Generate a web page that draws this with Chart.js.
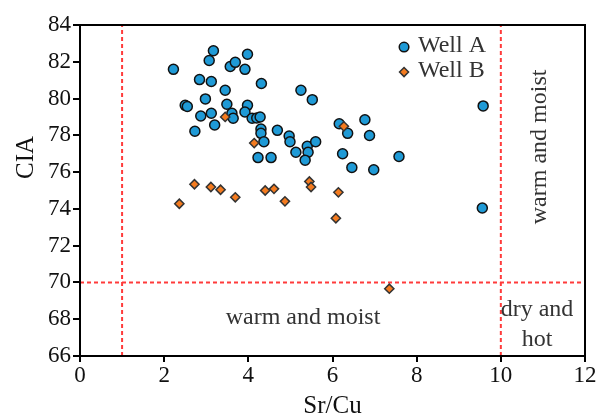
<!DOCTYPE html>
<html>
<head>
<meta charset="utf-8">
<script src="https://cdn.jsdelivr.net/npm/chart.js@4.4.1/dist/chart.umd.min.js"></script>
<style>
  html, body { margin:0; padding:0; background:#fff; }
  canvas { display:block; }
</style>
</head>
<body>
<canvas id="chart" width="601" height="419"></canvas>
<script>
// values
const WELL_A_X = [2.22,3.17,3.07,3.57,3.69,3.98,3.92,2.84,3.12,3.45,4.31,5.25,5.52,2.98,2.50,2.55,3.49,3.98,2.87,3.12,3.61,3.64,3.92,4.09,4.20,4.28,2.73,3.20,4.30,4.30,4.37,4.69,4.97,4.99,4.23,4.54,5.13,5.40,5.42,5.60,5.35,6.16,6.24,6.36,6.77,6.88,7.58,6.46,6.98,9.58,9.56];
const WELL_A_Y = [81.59,82.60,82.07,81.74,81.97,82.41,81.59,81.03,80.93,80.45,80.82,80.45,79.94,79.98,79.63,79.57,79.69,79.63,79.05,79.20,79.20,78.93,79.27,78.93,78.94,79.00,78.22,78.56,78.34,78.11,77.65,78.27,77.96,77.65,76.79,76.79,77.08,77.40,77.08,77.65,76.65,78.63,77.00,78.11,78.85,77.99,76.85,76.25,76.13,79.60,74.05];
const WELL_B_X = [2.36,2.72,3.11,3.34,3.69,4.40,4.61,4.87,3.45,4.14,5.45,5.49,6.14,6.08,6.27,7.35];
const WELL_B_Y = [74.28,75.34,75.19,75.04,74.63,75.00,75.09,74.41,79.00,77.58,75.49,75.19,74.90,73.49,78.49,69.66];
const X_TICKS = [0,2,4,6,8,10,12];
const Y_TICKS = [66,68,70,72,74,76,78,80,82,84];
const LIMIT_X = [1, 10];
const LIMIT_Y = 70;
const SERIES = ['Well A', 'Well B'];

const FONT = "'Liberation Serif','Times New Roman',serif";
const BLUE = '#1f9ad6', ORANGE = '#f47b1f', RED = '#ff3b3b';

const pts = (xs, ys) => xs.map((x, i) => ({ x, y: ys[i] }));
const xMin = X_TICKS[0], xMax = X_TICKS[X_TICKS.length - 1];
const yMin = Y_TICKS[0], yMax = Y_TICKS[Y_TICKS.length - 1];

function limitLine(data) {
  return { type:'line', data, showLine:true, pointRadius:0, borderColor:RED, borderWidth:2,
           borderDash:[4,3], fill:false, order:5 };
}

// frame, legend, axis title and zone labels
const overlay = {
  id:'overlay',
  afterDraw(chart) {
    const { ctx, chartArea:a, scales:{ x, y } } = chart;
    ctx.save();
    ctx.strokeStyle = '#000'; ctx.lineWidth = 2;
    ctx.strokeRect(a.left, a.top, a.right - a.left, a.bottom - a.top);

    ctx.fillStyle = '#111';
    ctx.font = '25px ' + FONT;
    ctx.textAlign = 'center'; ctx.textBaseline = 'middle';
    ctx.translate(26, y.getPixelForValue(76.8));
    ctx.rotate(-Math.PI / 2);
    ctx.fillText('CIA', 0, 0);
    ctx.setTransform(1,0,0,1,0,0);

    ctx.fillStyle = '#333';
    ctx.font = '24px ' + FONT;
    ctx.fillText('warm and moist', x.getPixelForValue(5.3), y.getPixelForValue(68.07));
    ctx.fillText('dry and', x.getPixelForValue(10.86), y.getPixelForValue(68.5));
    ctx.fillText('hot', x.getPixelForValue(10.86), y.getPixelForValue(66.87));
    ctx.save();
    ctx.translate(x.getPixelForValue(10.93), y.getPixelForValue(77.37));
    ctx.rotate(-Math.PI / 2);
    ctx.fillText('warm and moist', 0, 0);
    ctx.restore();

    // legend
    const lx = x.getPixelForValue(7.7);
    const ly = [y.getPixelForValue(82.8), y.getPixelForValue(81.44)];
    ctx.lineWidth = 1.5; ctx.strokeStyle = '#111';
    ctx.beginPath(); ctx.arc(lx, ly[0], 4.8, 0, Math.PI * 2);
    ctx.fillStyle = BLUE; ctx.fill(); ctx.stroke();
    ctx.beginPath();
    ctx.moveTo(lx, ly[1] - 4.5); ctx.lineTo(lx + 4.5, ly[1]); ctx.lineTo(lx, ly[1] + 4.5); ctx.lineTo(lx - 4.5, ly[1]); ctx.closePath();
    ctx.fillStyle = ORANGE; ctx.strokeStyle = '#333'; ctx.fill(); ctx.stroke();
    ctx.fillStyle = '#333'; ctx.textAlign = 'left';
    ctx.fillText(SERIES[0], x.getPixelForValue(8.03), ly[0] - 1);
    ctx.fillText(SERIES[1], x.getPixelForValue(8.03), ly[1] - 1);
    ctx.restore();
  }
};

Chart.defaults.font.family = FONT;
Chart.defaults.color = '#111';

new Chart(document.getElementById('chart'), {
  type:'scatter',
  data:{ datasets:[
    { label:SERIES[0], data:pts(WELL_A_X, WELL_A_Y), pointStyle:'circle', pointRadius:5, pointHoverRadius:5,
      backgroundColor:BLUE, borderColor:'#111', borderWidth:1.5, order:1 },
    { label:SERIES[1], data:pts(WELL_B_X, WELL_B_Y), pointStyle:'rectRot', pointRadius:4.6, pointHoverRadius:4.6,
      backgroundColor:ORANGE, borderColor:'#333', borderWidth:1.5, order:0 },
    limitLine([{ x:LIMIT_X[0], y:yMin }, { x:LIMIT_X[0], y:yMax }]),
    limitLine([{ x:LIMIT_X[1], y:yMin }, { x:LIMIT_X[1], y:yMax }]),
    limitLine([{ x:xMin, y:LIMIT_Y }, { x:xMax, y:LIMIT_Y }])
  ]},
  options:{
    responsive:false, animation:false,
    layout:{ padding:{ top:25, right:16, left:0, bottom:0 } },
    plugins:{ legend:{ display:false }, tooltip:{ enabled:false } },
    scales:{
      x:{ type:'linear', min:xMin, max:xMax,
          afterFit:s => { s.height = 63; },
          afterBuildTicks:s => { s.ticks = X_TICKS.map(v => ({ value:v })); },
          ticks:{ font:{ size:23 }, color:'#111', padding:0, maxRotation:0 },
          grid:{ drawOnChartArea:false, drawTicks:true, tickLength:6, color:'#000', lineWidth:2 },
          border:{ display:true, color:'#000', width:2 },
          title:{ display:true, text:'Sr/Cu', font:{ size:25, lineHeight:1 }, color:'#111', padding:{ top:0, bottom:0 } } },
      y:{ type:'linear', min:yMin, max:yMax,
          afterFit:s => { s.width = 80; },
          afterBuildTicks:s => { s.ticks = Y_TICKS.map(v => ({ value:v })); },
          ticks:{ font:{ size:23 }, color:'#111', padding:2 },
          grid:{ drawOnChartArea:false, drawTicks:true, tickLength:7, color:'#000', lineWidth:2 },
          border:{ display:true, color:'#000', width:2 } }
    }
  },
  plugins:[overlay]
});
</script>
</body>
</html>
